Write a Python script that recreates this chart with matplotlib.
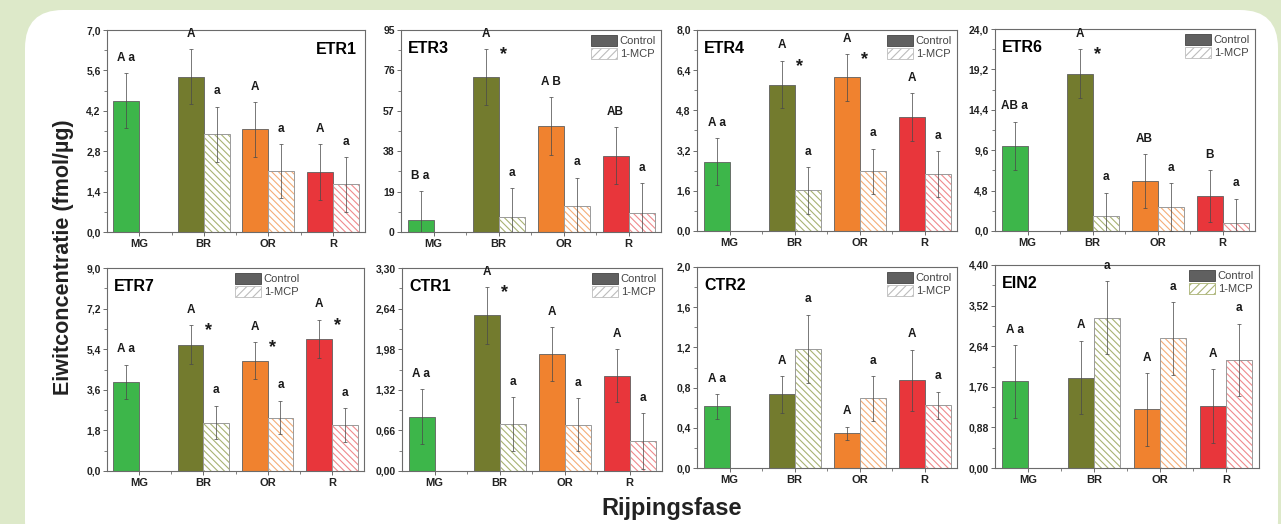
import numpy as np
import matplotlib
matplotlib.use('Agg')
import matplotlib.pyplot as plt
from matplotlib.patches import FancyBboxPatch, Patch
from matplotlib.ticker import FixedLocator, FuncFormatter

plt.rcParams['font.family'] = ['Liberation Sans', 'DejaVu Sans']
plt.rcParams['hatch.linewidth'] = 0.8

nan = np.nan
categories = ['MG', 'BR', 'OR', 'R']

# ---------------- data ----------------
etr1_ctrl = [4.55, 5.38, 3.56, 2.08]
etr1_ctrl_err = [0.95, 0.95, 0.95, 0.96]
etr1_mcp = [nan, 3.39, 2.11, 1.65]
etr1_mcp_err = [nan, 0.95, 0.94, 0.95]
etr1_ctrl_lbl = ['A a', 'A', 'A', 'A']
etr1_mcp_lbl = ['', 'a', 'a', 'a']
etr1_star = [False, False, False, False]

etr3_ctrl = [5.8, 72.7, 49.8, 35.8]
etr3_ctrl_err = [13.5, 13.2, 13.5, 13.4]
etr3_mcp = [nan, 7.1, 12.1, 9.1]
etr3_mcp_err = [nan, 13.6, 13.5, 14.0]
etr3_ctrl_lbl = ['B a', 'A', 'A B', 'AB']
etr3_mcp_lbl = ['', 'a', 'a', 'a']
etr3_star = [False, True, False, False]

etr4_ctrl = [2.76, 5.83, 6.11, 4.54]
etr4_ctrl_err = [0.94, 0.95, 0.93, 0.94]
etr4_mcp = [nan, 1.62, 2.38, 2.26]
etr4_mcp_err = [nan, 0.93, 0.90, 0.92]
etr4_ctrl_lbl = ['A a', 'A', 'A', 'A']
etr4_mcp_lbl = ['', 'a', 'a', 'a']
etr4_star = [False, True, True, False]

etr6_ctrl = [10.1, 18.7, 5.92, 4.13]
etr6_ctrl_err = [2.9, 2.9, 3.2, 3.1]
etr6_mcp = [nan, 1.79, 2.86, 0.99]
etr6_mcp_err = [nan, 2.78, 2.86, 2.86]
etr6_ctrl_lbl = ['AB a', 'A', 'AB', 'B']
etr6_mcp_lbl = ['', 'a', 'a', 'a']
etr6_star = [False, True, False, False]

etr7_ctrl = [3.95, 5.60, 4.88, 5.86]
etr7_ctrl_err = [0.76, 0.86, 0.82, 0.85]
etr7_mcp = [nan, 2.15, 2.37, 2.04]
etr7_mcp_err = [nan, 0.75, 0.75, 0.74]
etr7_ctrl_lbl = ['A a', 'A', 'A', 'A']
etr7_mcp_lbl = ['', 'a', 'a', 'a']
etr7_star = [False, True, True, True]

ctr1_ctrl = [0.885, 2.53, 1.90, 1.55]
ctr1_ctrl_err = [0.45, 0.46, 0.44, 0.43]
ctr1_mcp = [nan, 0.76, 0.75, 0.49]
ctr1_mcp_err = [nan, 0.44, 0.43, 0.45]
ctr1_ctrl_lbl = ['A a', 'A', 'A', 'A']
ctr1_mcp_lbl = ['', 'a', 'a', 'a']
ctr1_star = [False, True, False, False]

ctr2_ctrl = [0.612, 0.732, 0.344, 0.873]
ctr2_ctrl_err = [0.125, 0.18, 0.068, 0.305]
ctr2_mcp = [nan, 1.187, 0.692, 0.622]
ctr2_mcp_err = [nan, 0.34, 0.22, 0.137]
ctr2_ctrl_lbl = ['A a', 'A', 'A', 'A']
ctr2_mcp_lbl = ['', 'a', 'a', 'a']
ctr2_star = [False, False, False, False]

ein2_ctrl = [1.877, 1.96, 1.27, 1.34]
ein2_ctrl_err = [0.79, 0.80, 0.79, 0.80]
ein2_mcp = [nan, 3.26, 2.81, 2.34]
ein2_mcp_err = [nan, 0.79, 0.79, 0.79]
ein2_ctrl_lbl = ['A a', 'A', 'A', 'A']
ein2_mcp_lbl = ['', 'a', 'a', 'a']
ein2_star = [False, False, False, False]

y_max = {'ETR1': 7.0, 'ETR3': 95, 'ETR4': 8.0, 'ETR6': 24.0,
         'ETR7': 9.0, 'CTR1': 3.30, 'CTR2': 2.0, 'EIN2': 4.40}
y_dec = {'ETR1': 1, 'ETR3': 0, 'ETR4': 1, 'ETR6': 1,
         'ETR7': 1, 'CTR1': 2, 'CTR2': 1, 'EIN2': 2}

# ---------------- style ----------------
ctrl_colors = ['#3db64a', '#737b2e', '#f0822f', '#e8363b']
mcp_tints = ['#ffffff', '#a9b274', '#f5ad78', '#ef8a8d']

W, H = 1281, 524
fig = plt.figure(figsize=(W / 100, H / 100), dpi=100)
fig.patch.set_facecolor('#dde9c9')
box = FancyBboxPatch((0.25, -0.35), 12.53, 5.49,
                     boxstyle='round,pad=0,rounding_size=0.38',
                     transform=fig.dpi_scale_trans, facecolor='white',
                     edgecolor='none', zorder=0)
fig.add_artist(box)

panels = [
    ('ETR1', (107, 30, 365, 232), etr1_ctrl, etr1_ctrl_err, etr1_mcp, etr1_mcp_err,
     etr1_ctrl_lbl, etr1_mcp_lbl, etr1_star, None, 'right'),
    ('ETR3', (401, 30, 661, 232), etr3_ctrl, etr3_ctrl_err, etr3_mcp, etr3_mcp_err,
     etr3_ctrl_lbl, etr3_mcp_lbl, etr3_star, 'ur', 'left'),
    ('ETR4', (697, 30, 957, 231), etr4_ctrl, etr4_ctrl_err, etr4_mcp, etr4_mcp_err,
     etr4_ctrl_lbl, etr4_mcp_lbl, etr4_star, 'ur', 'left'),
    ('ETR6', (995, 29, 1255, 231), etr6_ctrl, etr6_ctrl_err, etr6_mcp, etr6_mcp_err,
     etr6_ctrl_lbl, etr6_mcp_lbl, etr6_star, 'ur', 'left'),
    ('ETR7', (107, 268, 364, 471), etr7_ctrl, etr7_ctrl_err, etr7_mcp, etr7_mcp_err,
     etr7_ctrl_lbl, etr7_mcp_lbl, etr7_star, 'mid', 'left'),
    ('CTR1', (402, 268, 662, 471), ctr1_ctrl, ctr1_ctrl_err, ctr1_mcp, ctr1_mcp_err,
     ctr1_ctrl_lbl, ctr1_mcp_lbl, ctr1_star, 'ur', 'left'),
    ('CTR2', (697, 267, 957, 468), ctr2_ctrl, ctr2_ctrl_err, ctr2_mcp, ctr2_mcp_err,
     ctr2_ctrl_lbl, ctr2_mcp_lbl, ctr2_star, 'ur', 'left'),
    ('EIN2', (995, 265, 1259, 468), ein2_ctrl, ein2_ctrl_err, ein2_mcp, ein2_mcp_err,
     ein2_ctrl_lbl, ein2_mcp_lbl, ein2_star, 'ur', 'left'),
]

spine_c = '#6b6b6b'
x = np.arange(len(categories))
bw = 0.4

for (name, (l, t, r, b), ctrl, cerr, mcp, merr, clbl, mlbl, star, leg, tpos) in panels:
    ax = fig.add_axes([l / W, 1 - b / H, (r - l) / W, (b - t) / H])
    ax.set_facecolor('white')
    ymax = y_max[name]
    dec = y_dec[name]
    ax.set_xlim(-0.5, 3.5)
    ax.set_ylim(0, ymax)

    # control bars
    ax.bar(x - bw / 2, ctrl, width=bw, color=ctrl_colors, edgecolor='#5f5f5f',
           linewidth=0.6, zorder=2)
    ax.errorbar(x - bw / 2, ctrl, yerr=cerr, fmt='none', ecolor='#4a4a4a',
                elinewidth=0.7, capsize=1.5, capthick=0.7, zorder=3, alpha=0.75)

    # 1-MCP bars
    idx = [i for i in range(len(categories)) if not np.isnan(mcp[i])]
    xm = x[idx] + bw / 2
    hm = [mcp[i] for i in idx]
    em = [merr[i] for i in idx]
    ax.bar(xm, hm, width=bw, facecolor='white', edgecolor=[mcp_tints[i] for i in idx],
           hatch='\\\\\\\\\\', linewidth=0, zorder=2)
    ax.bar(xm, hm, width=bw, fill=False, edgecolor='#9a9a9a', linewidth=0.7, zorder=2.5)
    ax.errorbar(xm, hm, yerr=em, fmt='none', ecolor='#4a4a4a',
                elinewidth=0.7, capsize=1.5, capthick=0.7, zorder=3, alpha=0.75)

    # significance letters
    for i in range(len(categories)):
        top = ctrl[i] + cerr[i]
        ax.annotate(clbl[i], (x[i] - bw / 2, top), xytext=(0, 11),
                    textcoords='offset points', ha='center', va='center',
                    fontsize=8.5, fontweight='bold', zorder=5, color='#1a1a1a')
        if star[i]:
            ax.annotate('*', (x[i] + 0.08, top), xytext=(0, -4),
                        textcoords='offset points', ha='center', va='center',
                        fontsize=13, fontweight='bold', zorder=5, color='#1a1a1a')
        if not np.isnan(mcp[i]) and mlbl[i]:
            ax.annotate(mlbl[i], (x[i] + bw / 2, mcp[i] + merr[i]), xytext=(0, 11),
                        textcoords='offset points', ha='center', va='center',
                        fontsize=8.5, fontweight='bold', zorder=5, color='#1a1a1a')

    # ticks
    yt = np.linspace(0, ymax, 6)
    ax.yaxis.set_major_locator(FixedLocator(yt))
    ax.yaxis.set_minor_locator(FixedLocator((yt[:-1] + yt[1:]) / 2))
    ax.yaxis.set_major_formatter(FuncFormatter(
        lambda v, p, d=dec: f'{v:.{d}f}'.replace('.', ',')))
    ax.set_xticks(x)
    ax.set_xticklabels(categories)
    ax.xaxis.set_minor_locator(FixedLocator([0.5, 1.5, 2.5]))
    ax.tick_params(axis='both', which='major', direction='out', length=3,
                   width=0.7, color=spine_c, labelsize=7.5, pad=1.5)
    ax.tick_params(axis='both', which='minor', direction='out', length=2,
                   width=0.6, color=spine_c)
    ax.tick_params(axis='x', which='major', labelsize=8, pad=2)
    for lab in ax.get_xticklabels() + ax.get_yticklabels():
        lab.set_fontweight('bold')
        lab.set_color('#222222')
    for s in ax.spines.values():
        s.set_color(spine_c)
        s.set_linewidth(0.8)

    # title
    if tpos == 'right':
        ax.text(0.97, 0.94, name, transform=ax.transAxes, ha='right', va='top',
                fontsize=11.5, fontweight='bold', zorder=6)
    else:
        ax.text(0.027, 0.945, name, transform=ax.transAxes, ha='left', va='top',
                fontsize=11.5, fontweight='bold', zorder=6)

    # legend
    if leg is not None:
        hcol = '#a9b274' if name == 'EIN2' else '#bdbdbd'
        handles = [Patch(facecolor='#606060', edgecolor='#444444', linewidth=0.6,
                         label='Control'),
                   Patch(facecolor='white', edgecolor=hcol, hatch='////',
                         linewidth=0.6, label='1-MCP')]
        if leg == 'ur':
            lg = ax.legend(handles=handles, loc='upper right', frameon=False,
                           fontsize=8, handlelength=2.3, handleheight=1.1,
                           labelspacing=0.2, handletextpad=0.25,
                           borderaxespad=0.15, borderpad=0.3)
        else:
            lg = ax.legend(handles=handles, loc='upper left',
                           bbox_to_anchor=(0.48, 1.0), frameon=False,
                           fontsize=8, handlelength=2.3, handleheight=1.1,
                           labelspacing=0.2, handletextpad=0.25,
                           borderaxespad=0.15, borderpad=0.3)
        for txt in lg.get_texts():
            txt.set_color('#444444')
        lg.set_zorder(6)

fig.text(64 / W, 1 - 257 / H, 'Eiwitconcentratie (fmol/µg)', rotation=90,
         ha='center', va='center', fontsize=15.5, fontweight='bold', color='#222222')
fig.text(672 / W, 1 - 508 / H, 'Rijpingsfase', ha='center', va='center',
         fontsize=17, fontweight='bold', color='#222222')

fig.savefig('out.png', dpi=100, facecolor=fig.get_facecolor())
